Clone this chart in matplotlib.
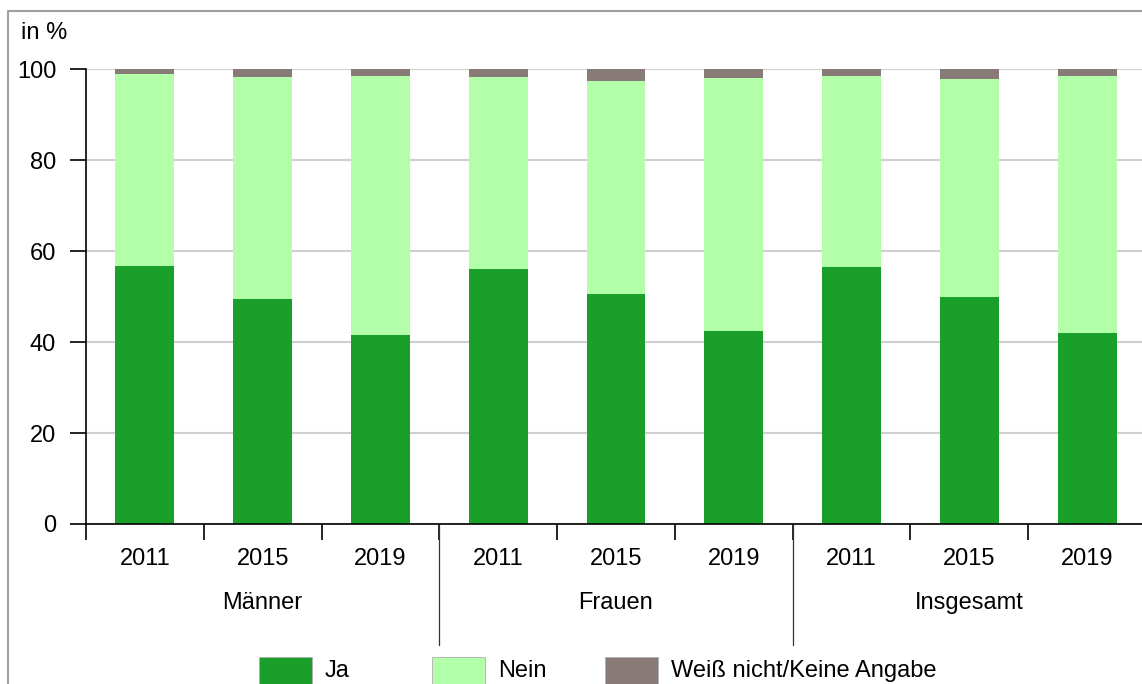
import matplotlib.pyplot as plt
from matplotlib.patches import Rectangle
from matplotlib.lines import Line2D

plt.rcParams['font.family'] = ['Liberation Sans', 'DejaVu Sans']

years = ["2011", "2015", "2019"] * 3
groups = ["Männer", "Frauen", "Insgesamt"]
ja = [56.8, 49.4, 41.6, 56.1, 50.5, 42.5, 56.5, 50.0, 42.1]
nein = [42.1, 48.8, 57.0, 42.3, 47.0, 55.6, 42.0, 47.8, 56.4]
weiss = [round(100 - a - b, 1) for a, b in zip(ja, nein)]
series = ["Ja", "Nein", "Weiß nicht/Keine Angabe"]
colors = ["#1a9f2a", "#b3ffa9", "#877a77"]

W, H = 1142, 684
fs = 17
fig = plt.figure(figsize=(W / 100, H / 100), dpi=100)
ax = fig.add_axes([86 / W, 160 / H, (1146 - 86) / W, (614.7 - 160) / H])

x = range(len(ja))
bottom2 = [a + b for a, b in zip(ja, nein)]
ax.bar(x, ja, width=0.5, color=colors[0], zorder=2)
ax.bar(x, nein, width=0.5, bottom=ja, color=colors[1], zorder=2)
ax.bar(x, weiss, width=0.5, bottom=bottom2, color=colors[2], zorder=2)

ax.set_xlim(-0.5, len(ja) - 0.5)
ax.set_ylim(0, 100)
ax.set_yticks([0, 20, 40, 60, 80, 100])
ax.yaxis.grid(True, color="#cfcfcf", linewidth=1.5, zorder=0)
ax.set_axisbelow(True)
for s in ["top", "right"]:
    ax.spines[s].set_visible(False)
ax.spines["left"].set_linewidth(1.2)
ax.spines["bottom"].set_linewidth(1.2)
ax.tick_params(axis="y", length=11.5, width=1.2, pad=10, labelsize=fs)

# year labels at bar centres, boundary ticks between them
ax.set_xticks(list(x))
ax.set_xticklabels(years, fontsize=fs)
ax.tick_params(axis="x", which="major", length=0, pad=17)
ax.set_xticks([i - 0.5 for i in x], minor=True)
ax.tick_params(axis="x", which="minor", length=11.5, width=1.2)

for g, name in enumerate(groups):
    ax.text(g * 3 + 1, -0.174, name, transform=ax.get_xaxis_transform(),
            ha="center", va="center", fontsize=fs)
for b in [2.5, 5.5]:
    ax.add_line(Line2D([b, b], [0, -0.266], transform=ax.get_xaxis_transform(),
                       color="#333333", linewidth=0.9, clip_on=False))

fig.text(21 / W, 1 - 33 / H, "in %", ha="left", va="center", fontsize=fs)

# legend
for i, (lab, c) in enumerate(zip(series, colors)):
    x0 = 259 + 173 * i
    fig.patches.append(Rectangle((x0 / W, -2 / H), 53 / W, 29 / H,
                                 transform=fig.transFigure, facecolor=c,
                                 edgecolor="#b0b0b0", linewidth=0.6))
    fig.text((x0 + 66) / W, 13 / H, lab, ha="left", va="center", fontsize=fs)

# outer frame (left and top)
fig.add_artist(Line2D([8 / W, 8 / W, 1.0], [0, 1 - 11 / H, 1 - 11 / H],
                      transform=fig.transFigure, color="#a0a0a0", linewidth=1.5))

fig.savefig("out.png", dpi=100)
